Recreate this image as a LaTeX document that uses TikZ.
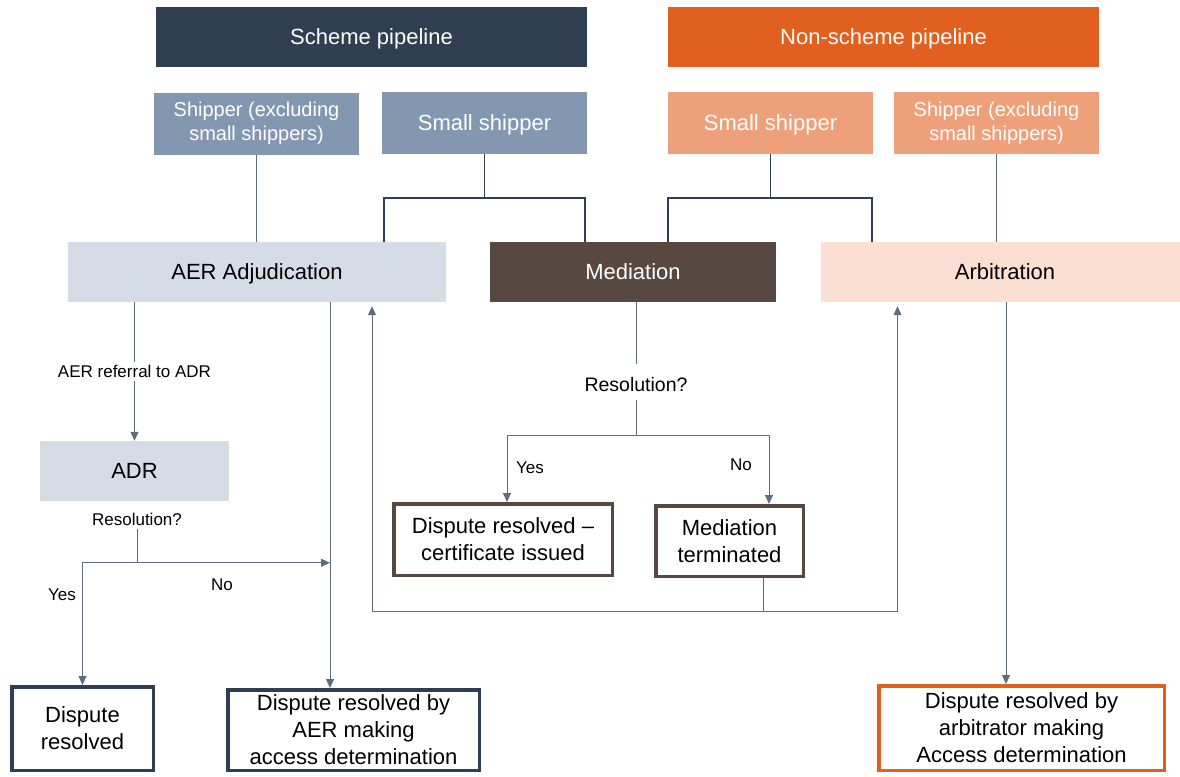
\documentclass[tikz,border=0pt]{standalone}
\usepackage{fontspec}
\setmainfont{Liberation Sans}
\usetikzlibrary{arrows.meta}

\begin{document}
\begin{tikzpicture}[x=1pt,y=-1pt]
    \definecolor{mynavy}{RGB}{47,62,81}
    \definecolor{myorange}{RGB}{226,96,31}
    \definecolor{myblueg}{RGB}{132,151,176}
    \definecolor{mypeach}{RGB}{237,160,122}
    \definecolor{mybluel}{RGB}{214,220,229}
    \definecolor{mypeachl}{RGB}{250,223,210}
    \definecolor{mybrown}{RGB}{87,72,66}
    \definecolor{myline}{RGB}{95,108,125}
    \useasboundingbox (0,0) rectangle (1180,776);

    \tikzstyle{big}=[font=\fontsize{22}{26}\selectfont,text height=15.8pt,text depth=0pt]  % one line, caps centred
    \tikzstyle{head}=[rectangle,big,minimum width=431pt,minimum height=60pt,text=white]  % pipeline titles
    \tikzstyle{party}=[rectangle,minimum width=205pt,minimum height=62pt,text=white,align=center,font=\fontsize{20}{24}\selectfont]  % shipper blocks
    \tikzstyle{stage}=[rectangle,big,minimum height=60pt]  % process blocks
    \tikzstyle{result}=[rectangle,draw,line width=3.5pt,fill=white,align=center,inner sep=0pt,font=\fontsize{22}{27}\selectfont]  % outcome blocks, thick border
    \tikzstyle{lbl}=[font=\fontsize{17}{20}\selectfont]  % small text on the lines
    \tikzstyle{link}=[draw=myline,line width=1pt]  % plain line
    \tikzstyle{fork}=[draw=mynavy,line width=1.8pt]  % small shipper fork
    \tikzstyle{arrow}=[link,-{Triangle[length=9pt,width=8pt]}]  % line with head

    % top rows
    \node[head,fill=mynavy](scheme) at (371.5,37){Scheme pipeline};
    \node[head,fill=myorange](nonscheme) at (883.5,37){Non-scheme pipeline};
    \node[party,fill=myblueg](shipS) at (256.5,123.5){Shipper (excluding\\small shippers)};
    \node[party,big,fill=myblueg](smallS) at (484.5,123){Small shipper};
    \node[party,big,fill=mypeach](smallN) at (770.5,123){Small shipper};
    \node[party,fill=mypeach](shipN) at (996.5,123){Shipper (excluding\\small shippers)};

    % processes
    \node[stage,fill=mybluel,minimum width=378pt](adj) at (257,272){AER Adjudication};
    \node[stage,fill=mybrown,text=white,minimum width=286pt](med) at (633,272){Mediation};
    \node[stage,fill=mypeachl,minimum width=359pt](arb) at (1000.5,272){\hspace{9pt}Arbitration};
    \node[stage,fill=mybluel,minimum width=189pt](adr) at (134.5,471){ADR};
    \node[lbl](resA) at (137,519){Resolution?};
    \node[lbl,font=\fontsize{19.5}{22}\selectfont](resM) at (636,385){Resolution?};

    % outcomes
    \node[result,draw=mynavy,minimum width=141.5pt,minimum height=83.5pt](resolved) at (82.5,728.5){Dispute\\resolved};
    \node[result,draw=mynavy,minimum width=251.5pt,minimum height=80.5pt](aerdet) at (353.5,730){Dispute resolved by\\AER making\\access determination};
    \node[result,draw=myorange,minimum width=285.5pt,minimum height=84.5pt](arbdet) at (1021.5,728){Dispute resolved by\\arbitrator making\\Access determination};
    \node[result,draw=mybrown,minimum width=218.5pt,minimum height=71.5pt](certif) at (503,539.5){Dispute resolved –\\certificate issued};
    \node[result,draw=mybrown,minimum width=147.5pt,minimum height=70.5pt](term) at (729.5,541){Mediation\\terminated};

    % yes / no
    \node[lbl](yesA) at (62,595){Yes};
    \node[lbl](noA) at (222,585){No};
    \node[lbl](yesM) at (530,468){Yes};
    \node[lbl](noM) at (741,465){No};

    % lines from shippers
    \draw[link](shipS)--(shipS|-adj.north);
    \draw[link](shipN)--(shipN|-arb.north);
    \draw[fork](smallS.south)--++(0,44)coordinate(forkS);
    \draw[fork]([xshift=-62pt]adj.north east)|-(forkS)-|([xshift=95pt]med.north west);
    \draw[fork](smallN.south)--++(0,44)coordinate(forkN);
    \draw[fork]([xshift=-108pt]med.north east)|-(forkN)-|([xshift=51pt]arb.north west);

    % scheme side
    \draw[arrow](adr.north|-adj.south)--node[lbl,fill=white](refer){AER referral to ADR}(adr.north);
    \draw[arrow]([xshift=73pt]adj.south)coordinate(adjdown)--(adjdown|-aerdet.north);
    \draw[link](resA.south)--++(0,34)coordinate(splitA);
    \draw[arrow](splitA)-|(resolved.north);
    \draw[arrow](splitA)--(splitA-|adjdown);

    % mediation
    \draw[link](resM.north|-med.south)--([yshift=10pt]resM.north);
    \draw[link]([yshift=-4pt]resM.south)--++(0,36)coordinate(splitM);
    \draw[arrow](splitM)-|([xshift=4pt]certif.north);
    \draw[arrow](splitM)-|([xshift=39.5pt]term.north);
    \draw[link]([xshift=33.5pt]term.south)--++(0,33)coordinate(loopM);
    \draw[arrow,shorten >=4pt](loopM)-|([xshift=115pt]adj.south);
    \draw[arrow,shorten >=4pt](loopM)-|([xshift=-103pt]arb.south);

    % arbitration
    \draw[arrow]([xshift=5.5pt]arb.south)coordinate(arbdown)--(arbdown|-arbdet.north);
\end{tikzpicture}
\end{document}
